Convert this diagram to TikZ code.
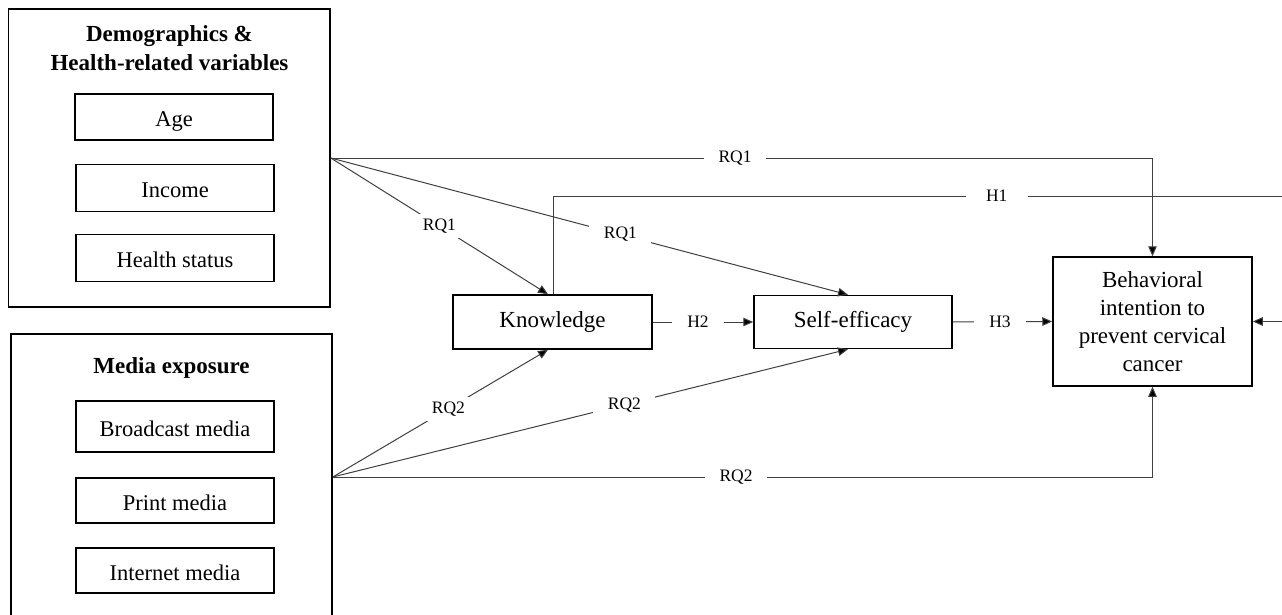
\documentclass[tikz,border=0pt]{standalone}
\usepackage{fontspec}
\setmainfont{Liberation Serif}
\usetikzlibrary{arrows.meta}
\begin{document}
\begin{tikzpicture}[x=1pt,y=-1pt,
  outer/.style={draw=black, line width=1.6pt, inner sep=0pt},
  item/.style={draw=black, line width=1.3pt, minimum width=198pt, inner sep=0pt, text height=22pt, text depth=3pt, font=\fontsize{22.5}{26}\selectfont},
  var/.style={draw=black, line width=1.5pt, inner sep=0pt, align=center, font=\fontsize{23}{28}\selectfont},
  ttl/.style={align=center, inner sep=0pt, font=\fontsize{23}{29}\selectfont\bfseries},
  conn/.style={draw=black!75, line width=1pt},
  arr/.style={conn, -{Triangle[length=10pt,width=8.5pt,fill=black]}},
  lab/.style={fill=white, inner sep=0pt, minimum width=62pt, minimum height=24pt, text=black, font=\fontsize{17.5}{20}\selectfont},
  ]
\useasboundingbox (0,0) rectangle (1282,615);
\fill[white] (0,0) rectangle (1282,615);
\clip (0,0) rectangle (1282,615);

% group boxes
\node[outer, minimum width=321.5pt, minimum height=298pt] (b1) at (169.25,158) {};
\node[ttl] (t1) at (169.5,48) {Demographics \&\\Health-related variables};
\node[item, minimum height=46pt] (age) at (174,117) {Age};
\node[item, minimum height=47pt] (inc) at (175,188) {Income};
\node[item, minimum height=47pt] (hs) at (175,258) {Health status};

\node[outer, minimum width=321pt, minimum height=286pt] (b2) at (171.5,477) {};
\node[ttl] (t2) at (171.5,368) {Media exposure};
\node[item, minimum height=51pt] (bm) at (175,426.5) {Broadcast media};
\node[item, minimum height=45pt] (pm) at (175,500.5) {Print media};
\node[item, minimum height=45pt] (im) at (175,570.5) {Internet media};

% variables
\node[var, minimum width=199pt, minimum height=54pt] (know) at (552.5,322) {Knowledge};
\node[var, minimum width=198pt, minimum height=53pt] (self) at (853,322) {Self-efficacy};
\node[var, minimum width=199pt, minimum height=129pt] (beh) at (1152.5,321.5)
  {Behavioral\\intention to\\prevent cervical\\cancer};

\coordinate (h1a) at (1300,196);
\coordinate (h1b) at (1300,321.5);

% connectors
\draw[arr] (b1.east) -| node[lab,pos=0.246]{RQ1} (beh.north);
\draw[arr] (b1.east) -- node[lab,pos=0.5]{RQ1} ([xshift=-4.5pt]know.north);
\draw[arr] (b1.east) -- node[lab,pos=0.56]{RQ1} ([xshift=-5pt]self.north);
\draw[arr] (b2.east) -- node[lab,pos=0.537]{RQ2} ([xshift=-4.5pt]know.south);
\draw[arr] (b2.east) -- node[lab,pos=0.566]{RQ2} ([xshift=-5pt]self.south);
\draw[arr] (b2.east) -| node[lab,pos=0.246]{RQ2} (beh.south);
\draw[arr] ([xshift=0.5pt]know.north) -- ([xshift=0.5pt]know.north |- h1a)
  -- node[lab,pos=0.594]{H1} (h1a) -- (h1b) -- (beh.east);
\draw[arr] (know.east) -- node[lab,minimum width=52pt,pos=0.45]{H2} (self.west);
\draw[arr] (self.east) -- node[lab,minimum width=52pt,pos=0.475]{H3} (beh.west);
\end{tikzpicture}
\end{document}
